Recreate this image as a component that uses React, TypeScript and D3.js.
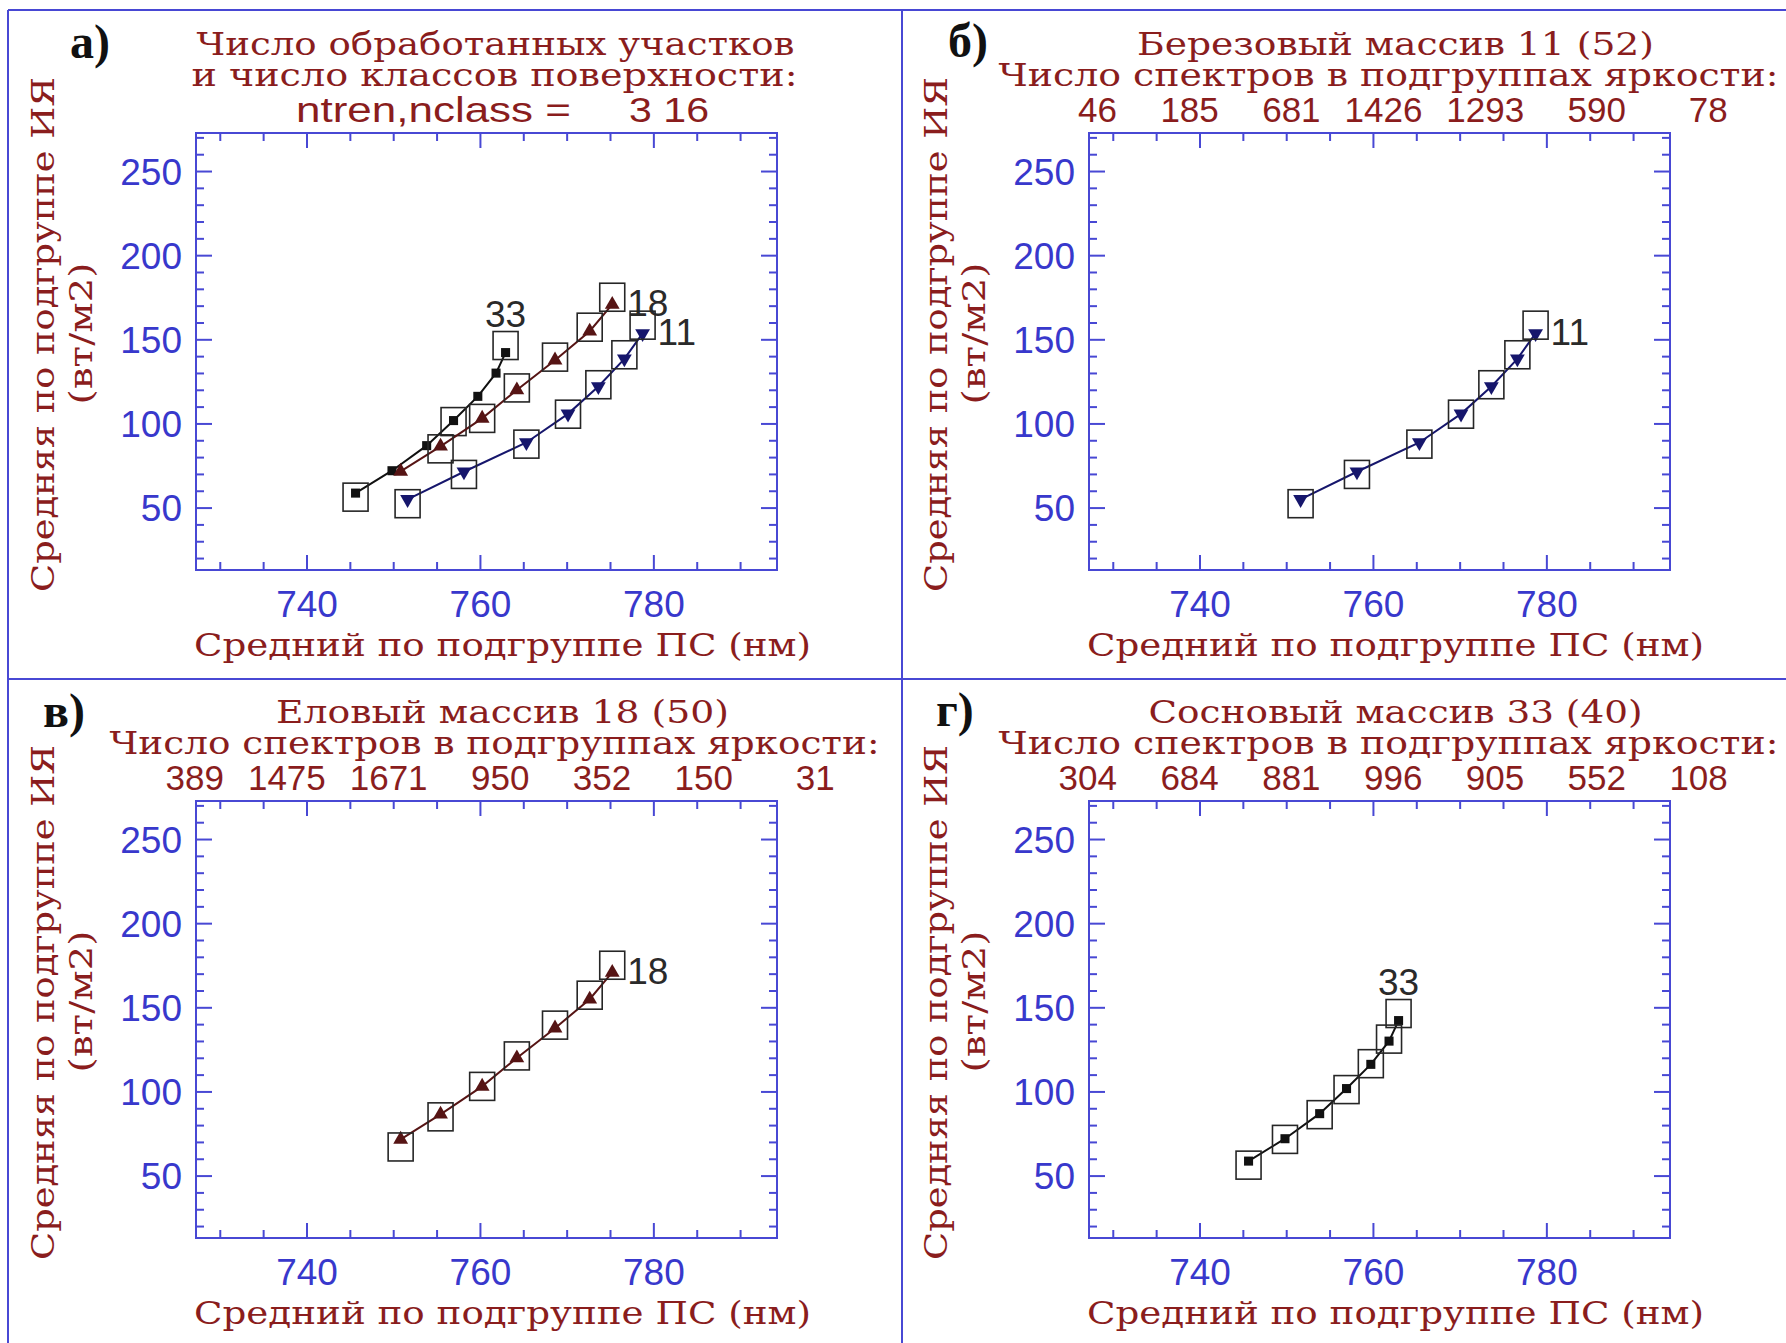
import React from 'react';
import * as d3 from 'd3';

// axis ranges and ticks (same for every panel)
const X_DOMAIN = [727.2, 794.2];
const Y_DOMAIN = [13.2, 272.9];
const xMajorTicks = [740, 760, 780];
const yMajorTicks = [50, 100, 150, 200, 250];
const xMinorTicks = d3.range(730, 795, 5).filter(v => !xMajorTicks.includes(v));
const yMinorTicks = d3.range(20, 271, 10).filter(v => !yMajorTicks.includes(v));

// series 11 - birch (Березовый массив)
const birchX = [751.6, 758.1, 765.3, 770.1, 773.6, 776.6, 778.7];
const birchY = [55.2, 71.6, 89.0, 106.0, 122.3, 138.7, 153.8];
const birchBoxY = [52.6, 70.0, 88.0, 105.8, 123.3, 141.1, 158.7];
const birchCounts = [46, 185, 681, 1426, 1293, 590, 78];

// series 18 - spruce (Еловый массив)
const spruceX = [750.8, 755.4, 760.2, 764.2, 768.6, 772.6, 775.2];
const spruceY = [71.8, 86.7, 103.3, 120.2, 137.9, 155.1, 171.0];
const spruceBoxY = [67.3, 85.2, 103.3, 121.4, 139.7, 157.5, 175.3];
const spruceCounts = [389, 1475, 1671, 950, 352, 150, 31];

// series 33 - pine (Сосновый массив)
const pineX = [745.6, 749.8, 753.8, 756.9, 759.7, 761.8, 762.9];
const pineY = [58.9, 72.2, 87.1, 102.0, 116.4, 130.2, 142.4];
const pineBoxY = [56.5, 71.8, 86.5, 101.4, 116.8, 131.4, 146.6];
const pineCounts = [304, 684, 881, 996, 905, 552, 108];

// which boxes are shown on the overview panel
const overviewBoxes = { '11': [0, 1, 2, 3, 4, 5, 6], '18': [1, 2, 3, 4, 5, 6], '33': [0, 3, 6] };

const SERIF = "'DejaVu Serif', 'Liberation Serif', serif";
const SANS = "'Liberation Sans', Arial, sans-serif";
const TITLE = '#8a1d1d';
const BLUE_TXT = '#3838cc';
const AXIS = '#4848d4';
const CHAR_W = 21.6;

const W = 581;
const H = 437;

const series = {
  '11': { name: '11', xs: birchX, ys: birchY, boxYs: birchBoxY, color: '#16166c', symbol: 'down', labelPos: 'right' },
  '18': { name: '18', xs: spruceX, ys: spruceY, boxYs: spruceBoxY, color: '#561414', symbol: 'up', labelPos: 'right' },
  '33': { name: '33', xs: pineX, ys: pineY, boxYs: pineBoxY, color: '#111111', symbol: 'square', labelPos: 'top' },
};

const MonoText = ({ x, y, text, width, size = 32, anchor = 'middle', fill = TITLE, family = SERIF, transform }: any) => (
  <text
    x={x} y={y} transform={transform}
    textAnchor={anchor}
    fontFamily={family}
    fontSize={size}
    fill={fill}
    textLength={width ?? text.length * CHAR_W}
    lengthAdjust="spacingAndGlyphs"
  >{text}</text>
);

const Panel = ({ left, top, keys, boxes, titleLines, counts, letter, letterPos, third }: any) => {
  const x = d3.scaleLinear().domain(X_DOMAIN).range([left, left + W]);
  const y = d3.scaleLinear().domain(Y_DOMAIN).range([top + H, top]);
  const cx = left + W / 2;

  const symbolPath = (kind: string) => {
    if (kind === 'square') return d3.symbol(d3.symbolSquare, 82)()!;
    return d3.symbol(d3.symbolTriangle, 95)()!;
  };

  return (
    <g>
      {/* titles */}
      <MonoText x={cx + titleLines[0].dx} y={top - 78} text={titleLines[0].text} width={titleLines[0].w} />
      <MonoText x={cx + titleLines[1].dx} y={top - 47} text={titleLines[1].text} width={titleLines[1].w} />
      {third}
      {counts && counts.map((c: number, i: number) => (
        <text key={i} x={left + 28 + 101.8 * i} y={top - 11} textAnchor="end"
          fontFamily={SANS} fontSize={35} fill={TITLE}>{c}</text>
      ))}
      <text x={letterPos[0]} y={letterPos[1]} fontFamily="'Liberation Serif', serif" fontWeight="bold"
        fontSize={48} fill="#111">{letter}</text>

      {/* axis titles */}
      <MonoText text="Средняя по подгруппе ИЯ" width={515}
        transform={`translate(${left - 142},${top + H / 2 - 17}) rotate(-90)`} x={0} y={0} />
      <MonoText text="(вт/м2)" width={142}
        transform={`translate(${left - 104},${top + H / 2 - 18}) rotate(-90)`} x={0} y={0} />
      <MonoText x={cx + 16} y={top + H + 86} text="Средний по подгруппе ПС (нм)" width={617} />

      {/* frame and ticks */}
      <rect x={left} y={top} width={W} height={H} fill="none" stroke={AXIS} strokeWidth={2} />
      {xMajorTicks.map(v => (
        <g key={'xm' + v}>
          <line x1={x(v)} x2={x(v)} y1={top + H} y2={top + H - 15} stroke={AXIS} strokeWidth={2} />
          <line x1={x(v)} x2={x(v)} y1={top} y2={top + 15} stroke={AXIS} strokeWidth={2} />
          <text x={x(v)} y={top + H + 47} textAnchor="middle" fontFamily={SANS} fontSize={37} fill={BLUE_TXT}>{v}</text>
        </g>
      ))}
      {xMinorTicks.map(v => (
        <g key={'xn' + v}>
          <line x1={x(v)} x2={x(v)} y1={top + H} y2={top + H - 8} stroke={AXIS} strokeWidth={2} />
          <line x1={x(v)} x2={x(v)} y1={top} y2={top + 8} stroke={AXIS} strokeWidth={2} />
        </g>
      ))}
      {yMajorTicks.map(v => (
        <g key={'ym' + v}>
          <line x1={left} x2={left + 16} y1={y(v)} y2={y(v)} stroke={AXIS} strokeWidth={2} />
          <line x1={left + W} x2={left + W - 16} y1={y(v)} y2={y(v)} stroke={AXIS} strokeWidth={2} />
          <text x={left - 14} y={y(v) + 13} textAnchor="end" fontFamily={SANS} fontSize={37} fill={BLUE_TXT}>{v}</text>
        </g>
      ))}
      {yMinorTicks.map(v => (
        <g key={'yn' + v}>
          <line x1={left} x2={left + 8} y1={y(v)} y2={y(v)} stroke={AXIS} strokeWidth={2} />
          <line x1={left + W} x2={left + W - 8} y1={y(v)} y2={y(v)} stroke={AXIS} strokeWidth={2} />
        </g>
      ))}

      {/* data */}
      {keys.map((k: string) => {
        const s = (series as any)[k];
        const pts = s.xs.map((v: number, i: number) => [x(v), y(s.ys[i])] as [number, number]);
        const path = d3.line()(pts)!;
        const shown: number[] = boxes ? boxes[k] : s.xs.map((_: number, i: number) => i);
        const last = pts[pts.length - 1];
        return (
          <g key={k}>
            <path d={path} fill="none" stroke={s.color} strokeWidth={2} />
            {pts.map((p: [number, number], i: number) => (
              <path key={i} d={symbolPath(s.symbol)} fill={s.color}
                transform={`translate(${p[0]},${p[1]})${s.symbol === 'down' ? ' rotate(180)' : ''}`} />
            ))}
            {shown.map(i => (
              <rect key={'b' + i} x={x(s.xs[i]) - 12.5} y={y(s.boxYs[i]) - 14} width={25} height={28}
                fill="none" stroke="#262626" strokeWidth={1.6} />
            ))}
            {s.labelPos === 'right'
              ? <text x={last[0] + 15} y={last[1] + 12} fontFamily={SANS} fontSize={37} fill="#2a2a2a">{s.name}</text>
              : <text x={last[0]} y={last[1] - 26} textAnchor="middle" fontFamily={SANS} fontSize={37} fill="#2a2a2a">{s.name}</text>}
          </g>
        );
      })}
    </g>
  );
};

export default function App() {
  const A = { left: 196, top: 133 };
  const B = { left: 1089, top: 133 };
  const C = { left: 196, top: 801 };
  const D = { left: 1089, top: 801 };
  return (
    <svg width={1786} height={1343} style={{ position: 'absolute', left: 0, top: 0, background: '#fff' }}>
      <rect width={1786} height={1343} fill="#fff" />
      {/* outer frame and dividers */}
      <line x1={8} x2={1786} y1={10} y2={10} stroke={AXIS} strokeWidth={2} />
      <line x1={8} x2={8} y1={10} y2={1343} stroke={AXIS} strokeWidth={2} />
      <line x1={902} x2={902} y1={10} y2={1343} stroke={AXIS} strokeWidth={2} />
      <line x1={8} x2={1786} y1={679} y2={679} stroke={AXIS} strokeWidth={2} />

      <Panel {...A} keys={['33', '18', '11']} boxes={overviewBoxes}
        letter="а)" letterPos={[70, 58]}
        titleLines={[
          { text: 'Число обработанных участков', dx: 9, w: 598 },
          { text: 'и число классов поверхности:', dx: 8, w: 606 },
        ]}
        third={<g>
          <MonoText x={A.left + 100} y={A.top - 11} anchor="start" family={SANS} size={35} text="ntren,nclass =" width={275} />
          <MonoText x={A.left + 433} y={A.top - 11} anchor="start" family={SANS} size={35} text="3 16" width={80} />
        </g>}
      />
      <Panel {...B} keys={['11']} counts={birchCounts}
        letter="б)" letterPos={[948, 57]}
        titleLines={[
          { text: 'Березовый массив 11 (52)', dx: 16, w: 517 },
          { text: 'Число спектров в подгруппах яркости:', dx: 9, w: 780 },
        ]}
      />
      <Panel {...C} keys={['18']} counts={spruceCounts}
        letter="в)" letterPos={[43, 727]}
        titleLines={[
          { text: 'Еловый массив 18 (50)', dx: 16, w: 453 },
          { text: 'Число спектров в подгруппах яркости:', dx: 8, w: 770 },
        ]}
      />
      <Panel {...D} keys={['33']} counts={pineCounts}
        letter="г)" letterPos={[936, 726]}
        titleLines={[
          { text: 'Сосновый массив 33 (40)', dx: 16, w: 494 },
          { text: 'Число спектров в подгруппах яркости:', dx: 9, w: 780 },
        ]}
      />
    </svg>
  );
}
